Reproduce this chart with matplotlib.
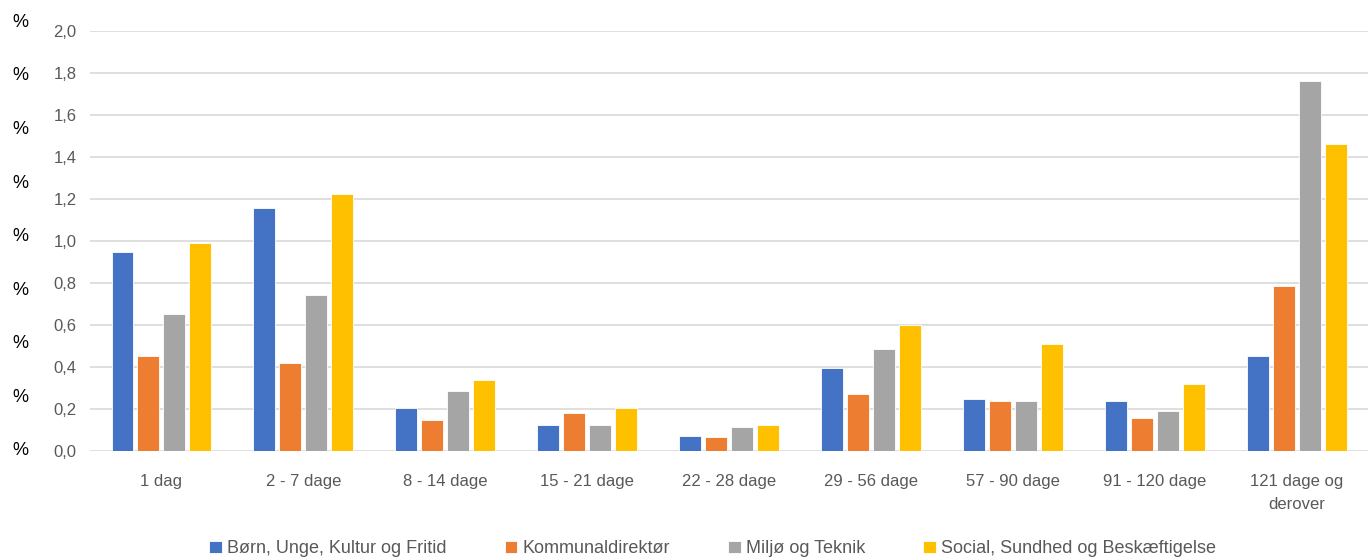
import numpy as np
import matplotlib.pyplot as plt
from matplotlib.transforms import blended_transform_factory

# Data
categories = ['1 dag', '2 - 7 dage', '8 - 14 dage', '15 - 21 dage', '22 - 28 dage',
              '29 - 56 dage', '57 - 90 dage', '91 - 120 dage', '121 dage og\nderover']
series_names = ['Børn, Unge, Kultur og Fritid', 'Kommunaldirektør',
                'Miljø og Teknik', 'Social, Sundhed og Beskæftigelse']
boern = [0.947, 1.157, 0.205, 0.124, 0.071, 0.395, 0.248, 0.238, 0.452]
kommunal = [0.452, 0.419, 0.148, 0.181, 0.067, 0.271, 0.238, 0.157, 0.786]
miljoe = [0.652, 0.743, 0.286, 0.124, 0.114, 0.486, 0.238, 0.190, 1.762]
social = [0.990, 1.224, 0.338, 0.205, 0.124, 0.600, 0.510, 0.319, 1.462]
yticks = [0.0, 0.2, 0.4, 0.6, 0.8, 1.0, 1.2, 1.4, 1.6, 1.8, 2.0]

colors = ['#4472C4', '#ED7D31', '#A5A5A5', '#FFC000']
font = 'Liberation Sans'
grey = '#595959'

fig = plt.figure(figsize=(13.68, 5.6), dpi=100)
ax = fig.add_axes([0.066, 0.195, 0.934, 0.75])

x = np.arange(len(categories))
step = 0.183
width = 0.152
for i, (vals, name) in enumerate(zip([boern, kommunal, miljoe, social], series_names)):
    ax.bar(x + (i - 1.5) * step, vals, width, color=colors[i], label=name,
           edgecolor='white', linewidth=0.6, zorder=3)

ax.set_xlim(-0.5, len(categories) - 0.5)
ax.set_ylim(0, 2.0)
ax.set_yticks(yticks)
ax.set_yticklabels([f'{v:.1f}'.replace('.', ',') for v in yticks],
                   fontsize=12, color=grey, family=font)
ax.set_xticks(x)
ax.set_xticklabels(categories, fontsize=12, color=grey, family=font, linespacing=1.6)
ax.tick_params(axis='both', length=0)
ax.tick_params(axis='y', pad=10)
ax.tick_params(axis='x', pad=17)
ax.grid(axis='y', color='#d9d9d9', linewidth=1.2, zorder=0)
for s in ax.spines.values():
    s.set_visible(False)

# stray "%" labels at the far left, as in the original
trans = blended_transform_factory(fig.transFigure, ax.transData)
for k in range(9):
    fig.text(0.015, k * 0.255, '%', transform=trans, fontsize=13, family=font,
             color='black', ha='center', va='center')

fig.legend(loc='lower center', bbox_to_anchor=(0.521, -0.024), ncol=4, frameon=False,
           handlelength=0.7, handleheight=0.7, handletextpad=0.3, columnspacing=3.2,
           prop={'family': font, 'size': 13}, labelcolor=grey)

plt.savefig('out.png', dpi=100)
